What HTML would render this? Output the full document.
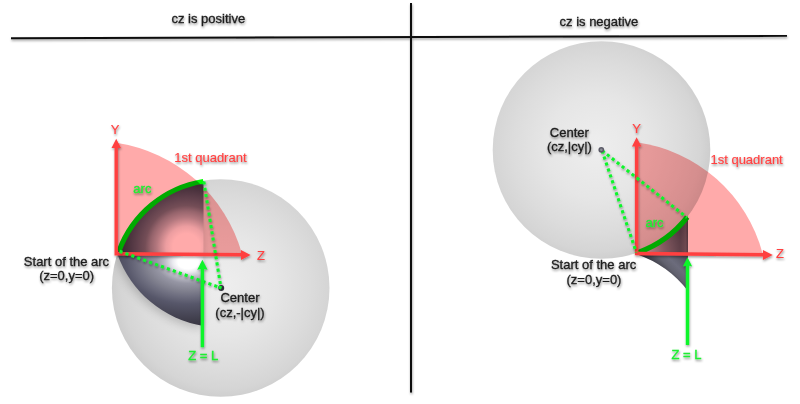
<!DOCTYPE html>
<html>
<head>
<meta charset="utf-8">
<title>cz positive / negative</title>
<style>
  html, body { margin: 0; padding: 0; background: #ffffff; }
  body { width: 800px; height: 404px; overflow: hidden; }
  svg { display: block; filter: blur(0.35px); }
  text { font-family: "Liberation Sans", sans-serif; font-size: 13px; }
  .k { fill: #1c1c1c; stroke: #1c1c1c; stroke-width: 0.3px; }
  .r { fill: #ff4141; stroke: #ff4141; stroke-width: 0.15px; }
  .g { fill: #1eee32; stroke: #1eee32; stroke-width: 0.35px; }
  .mul { mix-blend-mode: multiply; }
</style>
</head>
<body>
<svg width="800" height="404" viewBox="0 0 800 404">
  <defs>
    <filter id="sh" x="-20%" y="-50%" width="140%" height="220%">
      <feDropShadow dx="0.6" dy="1.6" stdDeviation="1.1" flood-color="#000" flood-opacity="0.45"/>
    </filter>
    <filter id="shl" filterUnits="userSpaceOnUse" x="0" y="0" width="800" height="404">
      <feDropShadow dx="0.5" dy="1.5" stdDeviation="1" flood-color="#000" flood-opacity="0.4"/>
    </filter>
    <filter id="blur5" filterUnits="userSpaceOnUse" x="0" y="0" width="800" height="404">
      <feGaussianBlur stdDeviation="5"/>
    </filter>
    <radialGradient id="gsL" gradientUnits="userSpaceOnUse" cx="225" cy="285" r="113">
      <stop offset="0" stop-color="#eeeeee"/>
      <stop offset="0.45" stop-color="#e6e6e6"/>
      <stop offset="0.75" stop-color="#dcdcdc"/>
      <stop offset="0.92" stop-color="#d5d5d5"/>
      <stop offset="1" stop-color="#cecece"/>
    </radialGradient>
    <radialGradient id="gsR" gradientUnits="userSpaceOnUse" cx="597" cy="147" r="113">
      <stop offset="0" stop-color="#eeeeee"/>
      <stop offset="0.45" stop-color="#e6e6e6"/>
      <stop offset="0.75" stop-color="#dcdcdc"/>
      <stop offset="0.92" stop-color="#d5d5d5"/>
      <stop offset="1" stop-color="#cecece"/>
    </radialGradient>
    <radialGradient id="gdL" gradientUnits="userSpaceOnUse" cx="186.5" cy="247" r="90">
      <stop offset="0" stop-color="#ffffff"/>
      <stop offset="0.15" stop-color="#ffffff"/>
      <stop offset="0.23" stop-color="#ececf0"/>
      <stop offset="0.33" stop-color="#b4b4be"/>
      <stop offset="0.40" stop-color="#9696a2"/>
      <stop offset="0.46" stop-color="#747482"/>
      <stop offset="0.55" stop-color="#5f5f70"/>
      <stop offset="0.64" stop-color="#4b4b5c"/>
      <stop offset="0.76" stop-color="#37353f"/>
      <stop offset="1" stop-color="#2a2630"/>
    </radialGradient>
    <radialGradient id="gdL2" gradientUnits="userSpaceOnUse" cx="0" cy="0" r="90" gradientTransform="translate(188 262) scale(1.25 0.85)">
      <stop offset="0" stop-color="#ffffff"/>
      <stop offset="0.09" stop-color="#ffffff"/>
      <stop offset="0.135" stop-color="#ebebf0"/>
      <stop offset="0.2" stop-color="#c0c0ca"/>
      <stop offset="0.28" stop-color="#9696a4"/>
      <stop offset="0.38" stop-color="#80808e"/>
      <stop offset="0.44" stop-color="#717182"/>
      <stop offset="0.55" stop-color="#57576a"/>
      <stop offset="0.78" stop-color="#3d3b48"/>
      <stop offset="1" stop-color="#2f2c38"/>
    </radialGradient>
    <clipPath id="cLu"><rect x="100" y="170" width="120" height="84"/></clipPath>
    <clipPath id="cLd"><rect x="100" y="254" width="120" height="90"/></clipPath>
    <radialGradient id="gdR" gradientUnits="userSpaceOnUse" cx="636.6" cy="255" r="70">
      <stop offset="0" stop-color="#d0d0d8"/>
      <stop offset="0.2" stop-color="#b0b3bc"/>
      <stop offset="0.4" stop-color="#858792"/>
      <stop offset="0.58" stop-color="#666874"/>
      <stop offset="0.8" stop-color="#45424f"/>
      <stop offset="1" stop-color="#3b3846"/>
    </radialGradient>
    <linearGradient id="gdR2" gradientUnits="userSpaceOnUse" x1="652" y1="288" x2="690" y2="250">
      <stop offset="0.3" stop-color="#33323c"/>
      <stop offset="0.5" stop-color="#62626f"/>
      <stop offset="0.62" stop-color="#6c6c7c"/>
      <stop offset="0.85" stop-color="#53535f"/>
      <stop offset="1" stop-color="#484753"/>
    </linearGradient>
    <linearGradient id="gdR3" gradientUnits="userSpaceOnUse" x1="680" y1="0" x2="688" y2="0">
      <stop offset="0" stop-color="#ffffff" stop-opacity="0"/>
      <stop offset="0.7" stop-color="#ffffff" stop-opacity="0.16"/>
      <stop offset="1" stop-color="#ffffff" stop-opacity="0.05"/>
    </linearGradient>
    <clipPath id="cRu"><rect x="600" y="200" width="120" height="54"/></clipPath>
    <clipPath id="cRd"><rect x="600" y="254" width="120" height="60"/></clipPath>
    <clipPath id="cL"><circle cx="220.7" cy="288" r="108.8"/></clipPath>
  </defs>

  <rect x="0" y="0" width="800" height="404" fill="#ffffff"/>

  <!-- frame lines -->
  <g filter="url(#shl)" stroke="#0c0c0c" stroke-linecap="butt">
    <line x1="11" y1="38.2" x2="787" y2="35.9" stroke-width="1.9"/>
    <line x1="411" y1="3" x2="411" y2="392.6" stroke-width="2"/>
  </g>

  <!-- titles -->
  <g filter="url(#sh)" class="k" text-anchor="middle">
    <text x="208.3" y="22.5" font-size="13.25">cz is positive</text>
    <text x="598.9" y="25.7" font-size="13.25">cz is negative</text>
  </g>

  <!-- ================= LEFT ================= -->
  <!-- gray sphere -->
  <circle cx="220.7" cy="288" r="108.8" fill="url(#gsL)"/>
  <!-- lens shadow -->
  <g clip-path="url(#cL)">
    <path d="M117.4,254 A108.2,108.2 0 0 1 203.5,181 L203.5,326 A109.5,109.5 0 0 1 117.4,254 Z"
          fill="#000" opacity="0.2" filter="url(#blur5)" transform="translate(-2,3)"/>
  </g>
  <!-- dark lens -->
  <g clip-path="url(#cLu)"><path d="M117.4,254 A108.2,108.2 0 0 1 203.5,181 L203.5,326 A109.5,109.5 0 0 1 117.4,254 Z" fill="url(#gdL)"/></g>
  <g clip-path="url(#cLd)"><path d="M117.4,254 A108.2,108.2 0 0 1 203.5,181 L203.5,326 A109.5,109.5 0 0 1 117.4,254 Z" fill="url(#gdL2)"/></g>
  <!-- green arc -->
  <path d="M119,251 A107.9,107.9 0 0 1 203.3,181.4" fill="none" stroke="#00ff00" stroke-width="5"/>
  <!-- pink quadrant -->
  <path class="mul" d="M116.2,253.6 L116.2,142.7 A154.5,154.5 0 0 1 241.9,253.6 Z" fill="#ffaaaa"/>
  <!-- axes -->
  <g filter="url(#shl)" fill="#ff4141" stroke="none">
    <path d="M114.5,255.4 L114.5,148 L111.5,148 L116.2,138.8 L121,148 L117.9,148 L117.9,252 L241,253 L241,250.1 L250.6,255 L241,259.9 L241,256.6 L114.5,255.4 Z"/>
  </g>
  <!-- dotted -->
  <g filter="url(#shl)" stroke="#0cf52c" stroke-width="3.1" stroke-dasharray="3.15 3.15" fill="none">
    <line x1="119.5" y1="251.2" x2="221" y2="288"/>
    <line x1="203.8" y1="181.5" x2="221" y2="288"/>
  </g>
  <circle cx="221.2" cy="288" r="3" fill="#30303a"/>
  <rect x="218.6" y="285.8" width="3.2" height="3.2" fill="#0cf52c" transform="rotate(20 220 287)"/>
  <!-- green arrow -->
  <g filter="url(#shl)" fill="#0cf52c">
    <path d="M200.7,347.3 L200.7,269 L197.2,269.8 L202.4,259.8 L207.6,269.8 L204.1,269 L204.1,347.3 Z"/>
  </g>
  <!-- labels -->
  <g filter="url(#sh)" text-anchor="middle">
    <text class="r" x="115.1" y="134.2">Y</text>
    <text class="r" x="261" y="259.6">Z</text>
    <text class="r" x="210.4" y="161.8">1st quadrant</text>
    <text class="g" x="142.4" y="193.2">arc</text>
    <text class="g" x="203.3" y="359.8">Z = L</text>
    <text class="k" x="66.5" y="266.2">Start of the arc</text>
    <text class="k" x="66.6" y="280.4">(z=0,y=0)</text>
    <text class="k" x="240" y="302.4">Center</text>
    <text class="k" x="240" y="317">(cz,-|cy|)</text>
  </g>

  <!-- ================= RIGHT ================= -->
  <circle cx="601.5" cy="150" r="108.8" fill="url(#gsR)"/>
  <!-- dark cusp -->
  <g clip-path="url(#cRu)">
    <path d="M636.6,253.4 A108.8,108.8 0 0 0 688,216.8 L688,291 A108.8,108.8 0 0 0 636.6,254.2 Z" fill="url(#gdR)"/>
    <path d="M636.6,253.4 A108.8,108.8 0 0 0 688,216.8 L688,291 A108.8,108.8 0 0 0 636.6,254.2 Z" fill="url(#gdR3)"/>
  </g>
  <g clip-path="url(#cRd)">
    <path d="M636.6,253.4 A108.8,108.8 0 0 0 688,216.8 L688,291 A108.8,108.8 0 0 0 636.6,254.2 Z" fill="url(#gdR2)"/>
  </g>
  <!-- green arc -->
  <path d="M638.5,252.4 A108.8,108.8 0 0 0 687.2,217.2" fill="none" stroke="#00ff00" stroke-width="5.2"/>
  <!-- pink quadrant -->
  <path class="mul" d="M636.6,253.4 L636.6,142.3 A151.5,151.5 0 0 1 762.6,253.4 Z" fill="#ffaaaa"/>
  <!-- axes -->
  <g filter="url(#shl)" fill="#ff4141" stroke="none">
    <path d="M634.9,255.2 L634.9,146.5 L632,146.5 L636.6,137.2 L641.4,146.5 L638.3,146.5 L638.3,251.8 L762.9,252.9 L762.9,250.1 L772.8,255 L762.9,259.9 L762.9,256.5 L634.9,255.2 Z"/>
  </g>
  <!-- dotted -->
  <g filter="url(#shl)" stroke="#0cf52c" stroke-width="3.1" stroke-dasharray="3.15 3.15" fill="none">
    <line x1="602" y1="150.5" x2="636.3" y2="252.5"/>
    <line x1="602" y1="150.5" x2="687" y2="217.5"/>
  </g>
  <circle cx="601.3" cy="149.8" r="2.9" fill="#5a5a66"/>
  <circle cx="601.3" cy="149.8" r="1.3" fill="#8d8d98"/>
  <!-- green arrow -->
  <g filter="url(#shl)" fill="#0cf52c">
    <path d="M685.8,345 L685.8,265.8 L682.8,266.5 L687.5,257.2 L692.2,266.5 L689.2,265.8 L689.2,345 Z"/>
  </g>
  <!-- labels -->
  <g filter="url(#sh)" text-anchor="middle">
    <text class="r" x="636.5" y="133.3">Y</text>
    <text class="r" x="780" y="258.2">Z</text>
    <text class="r" x="746.6" y="164">1st quadrant</text>
    <text class="g" x="654.5" y="226.7">arc</text>
    <text class="g" x="686.4" y="359.2">Z = L</text>
    <text class="k" x="593.6" y="269.2">Start of the arc</text>
    <text class="k" x="594" y="283.8">(z=0,y=0)</text>
    <text class="k" x="569.3" y="136.7">Center</text>
    <text class="k" x="569.4" y="150.8">(cz,|cy|)</text>
  </g>
</svg>
</body>
</html>
